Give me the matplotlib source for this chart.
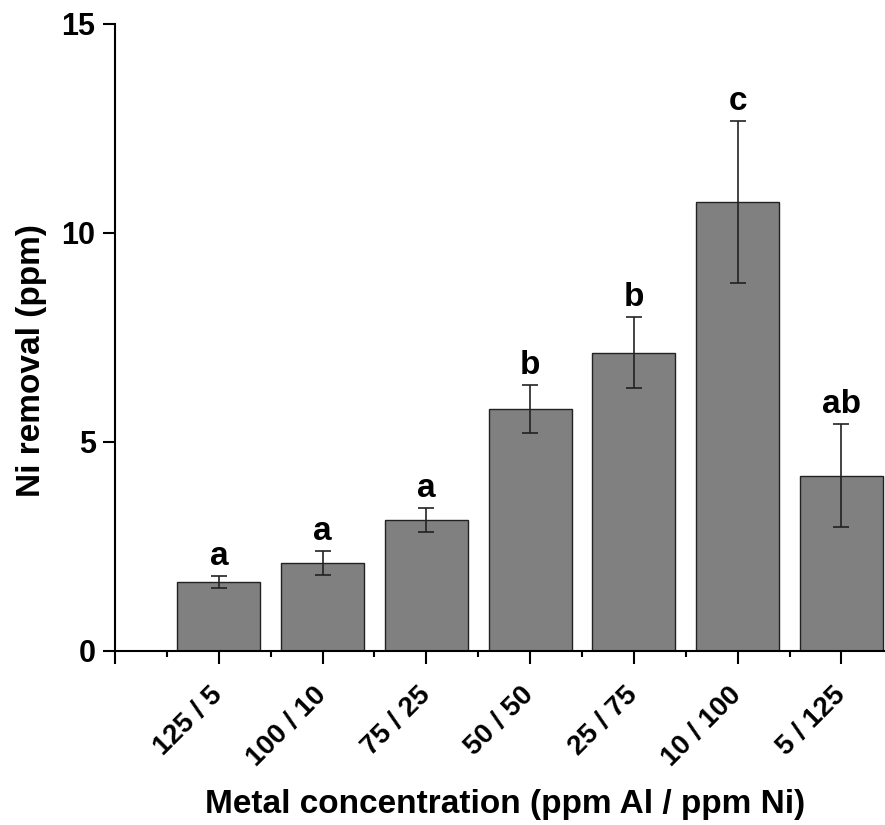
import matplotlib.pyplot as plt
import numpy as np

plt.rcParams['font.family'] = ['Liberation Sans', 'DejaVu Sans']
plt.rcParams['font.weight'] = 'bold'

# metal mix (ppm Al / ppm Ni) and the Ni removed
labels = ['125 / 5', '100 / 10', '75 / 25', '50 / 50', '25 / 75', '10 / 100', '5 / 125']
removal = [1.65, 2.10, 3.13, 5.79, 7.13, 10.74, 4.19]
err = [0.15, 0.28, 0.28, 0.57, 0.85, 1.93, 1.23]
groups = ['a', 'a', 'a', 'b', 'b', 'c', 'ab']

fig = plt.figure(figsize=(8.85, 8.25), dpi=100)
ax = fig.add_axes([0.130, 0.211, 0.870, 0.760])

x = np.arange(1, len(labels) + 1)
ax.bar(x, removal, width=0.8, color='#808080', edgecolor='#222222', linewidth=1.0, zorder=2)
ax.errorbar(x, removal, yerr=err, fmt='none', ecolor='#222222', elinewidth=1.2,
            capsize=6, capthick=1.2, zorder=3)

# significance letters over the error bars
for xi, v, e, g in zip(x, removal, err, groups):
    ax.annotate(g, (xi, v + e), xytext=(0, 3), textcoords='offset points',
                ha='center', va='bottom', fontsize=24, fontweight='bold')

ax.set_xlim(0, 7.42)
ax.set_ylim(0, 15)
ax.set_yticks([0, 5, 10, 15])
ax.set_xticks(np.arange(0, 8))
ax.set_xticklabels([''] + labels)
ax.set_xticks(np.arange(0.5, 7.5, 1), minor=True)

for s in ['top', 'right']:
    ax.spines[s].set_visible(False)
for s in ['left', 'bottom']:
    ax.spines[s].set_linewidth(1.5)

ax.tick_params(axis='both', which='major', direction='out', length=9, width=1.5)
ax.tick_params(axis='y', labelsize=22, pad=5)
ax.tick_params(axis='x', which='major', labelsize=20, pad=20)
ax.tick_params(axis='x', which='minor', direction='out', length=4.5, width=1.5)
plt.setp(ax.get_xticklabels(), rotation=45, ha='right', va='center', rotation_mode='anchor')

ax.set_ylabel('Ni removal (ppm)', fontsize=24, fontweight='bold')
ax.set_xlabel('Metal concentration (ppm Al / ppm Ni)', fontsize=24, fontweight='bold')
ax.yaxis.set_label_coords(-0.088, 0.4625)
ax.xaxis.set_label_coords(0.506, -0.220)

fig.savefig('out.png', dpi=100)
